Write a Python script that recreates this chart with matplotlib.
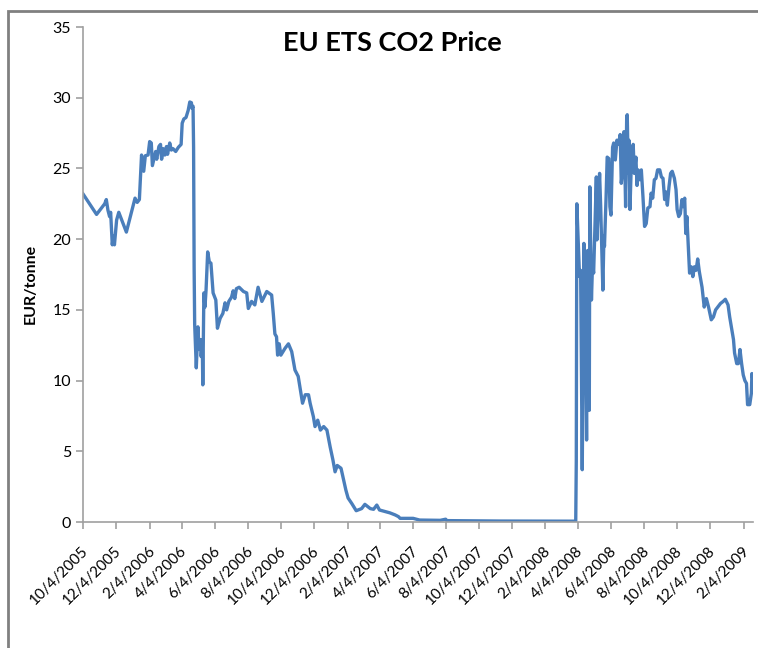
import pandas as pd
from matplotlib import pyplot as plt
from matplotlib.patches import Rectangle
import matplotlib.transforms as mtransforms

# price readings (EUR/tonne)
dates = [
    '2005-10-04', '2005-10-29', '2005-11-13', '2005-11-16', '2005-11-19', '2005-11-22',
    '2005-11-24', '2005-11-27', '2005-11-29', '2005-12-01', '2005-12-05', '2005-12-09',
    '2005-12-23', '2006-01-08', '2006-01-12', '2006-01-16', '2006-01-20', '2006-01-24',
    '2006-01-27', '2006-02-01', '2006-02-04', '2006-02-07', '2006-02-09', '2006-02-12',
    '2006-02-15', '2006-02-17', '2006-02-21', '2006-02-24', '2006-02-26', '2006-03-01',
    '2006-03-04', '2006-03-07', '2006-03-09', '2006-03-13', '2006-03-16', '2006-03-19',
    '2006-03-24', '2006-03-29', '2006-04-03', '2006-04-05', '2006-04-08', '2006-04-12',
    '2006-04-16', '2006-04-19', '2006-04-22', '2006-04-23', '2006-04-25', '2006-04-26',
    '2006-04-27', '2006-04-28', '2006-05-01', '2006-05-04', '2006-05-06', '2006-05-09',
    '2006-05-10', '2006-05-12', '2006-05-13', '2006-05-15', '2006-05-17', '2006-05-19',
    '2006-05-22', '2006-05-25', '2006-05-28', '2006-06-01', '2006-06-06', '2006-06-09',
    '2006-06-14', '2006-06-19', '2006-06-23', '2006-06-26', '2006-06-30', '2006-07-05',
    '2006-07-08', '2006-07-11', '2006-07-14', '2006-07-19', '2006-07-27', '2006-08-02',
    '2006-08-05', '2006-08-11', '2006-08-17', '2006-08-23', '2006-08-30', '2006-09-08',
    '2006-09-17', '2006-09-20', '2006-09-23', '2006-09-26', '2006-09-28', '2006-10-01',
    '2006-10-04', '2006-10-12', '2006-10-18', '2006-10-24', '2006-10-30', '2006-11-05',
    '2006-11-10', '2006-11-13', '2006-11-18', '2006-11-24', '2006-11-27', '2006-12-03',
    '2006-12-06', '2006-12-11', '2006-12-16', '2006-12-22', '2006-12-28', '2007-01-03',
    '2007-01-08', '2007-01-12', '2007-01-16', '2007-01-23', '2007-01-28', '2007-02-01',
    '2007-02-05', '2007-02-12', '2007-02-20', '2007-03-02', '2007-03-08', '2007-03-18',
    '2007-03-24', '2007-03-30', '2007-04-04', '2007-04-23', '2007-05-03', '2007-05-09',
    '2007-05-12', '2007-06-05', '2007-06-12', '2007-06-17', '2007-07-25', '2007-08-04',
    '2007-08-06', '2007-11-13', '2008-03-31', '2008-04-01', '2008-04-02', '2008-04-07',
    '2008-04-09', '2008-04-12', '2008-04-15', '2008-04-17', '2008-04-20', '2008-04-22',
    '2008-04-25', '2008-04-26', '2008-04-29', '2008-05-01', '2008-05-03', '2008-05-08',
    '2008-05-09', '2008-05-14', '2008-05-16', '2008-05-20', '2008-05-22', '2008-05-23',
    '2008-05-26', '2008-05-28', '2008-05-31', '2008-06-02', '2008-06-04', '2008-06-07',
    '2008-06-09', '2008-06-12', '2008-06-15', '2008-06-18', '2008-06-21', '2008-06-23',
    '2008-06-26', '2008-06-28', '2008-06-29', '2008-07-01', '2008-07-03', '2008-07-04',
    '2008-07-06', '2008-07-07', '2008-07-09', '2008-07-11', '2008-07-13', '2008-07-15',
    '2008-07-17', '2008-07-20', '2008-07-22', '2008-07-24', '2008-07-27', '2008-07-30',
    '2008-08-02', '2008-08-05', '2008-08-08', '2008-08-11', '2008-08-15', '2008-08-17',
    '2008-08-20', '2008-08-23', '2008-08-26', '2008-08-29', '2008-09-02', '2008-09-05',
    '2008-09-08', '2008-09-11', '2008-09-13', '2008-09-16', '2008-09-19', '2008-09-22',
    '2008-09-25', '2008-09-29', '2008-10-02', '2008-10-04', '2008-10-07', '2008-10-10',
    '2008-10-13', '2008-10-15', '2008-10-18', '2008-10-20', '2008-10-22', '2008-10-24',
    '2008-10-27', '2008-10-30', '2008-11-02', '2008-11-05', '2008-11-08', '2008-11-11',
    '2008-11-14', '2008-11-19', '2008-11-23', '2008-11-27', '2008-12-01', '2008-12-06',
    '2008-12-10', '2008-12-14', '2008-12-18', '2008-12-23', '2008-12-28', '2009-01-01',
    '2009-01-06', '2009-01-09', '2009-01-12', '2009-01-16', '2009-01-18', '2009-01-22',
    '2009-01-25', '2009-01-28', '2009-01-31', '2009-02-03', '2009-02-06', '2009-02-09',
    '2009-02-11', '2009-02-15', '2009-02-18', '2009-02-19', '2009-02-21',
]
prices = [
    23.2, 21.75, 22.5, 22.8, 22.05, 21.6,
    21.9, 19.6, 20.2, 19.6, 21.35, 21.9,
    20.5, 22.9, 22.6, 22.8, 25.95, 24.8,
    25.9, 25.95, 26.9, 26.8, 25.2, 25.7,
    26.2, 25.65, 26.55, 26.7, 25.65, 26.4,
    25.95, 26.55, 26.0, 26.8, 26.3, 26.4,
    26.2, 26.5, 26.7, 28.2, 28.5, 28.6,
    29.1, 29.7, 29.65, 29.25, 29.4, 26.5,
    18.0, 14.0, 10.9, 13.8, 12.2, 12.9,
    11.7, 12.75, 9.7, 16.2, 15.2, 16.4,
    19.1, 18.4, 18.3, 16.2, 15.7, 13.7,
    14.4, 14.75, 15.5, 15.0, 15.6, 15.9,
    16.35, 15.8, 16.5, 16.6, 16.3, 16.2,
    15.1, 15.6, 15.35, 16.6, 15.6, 16.3,
    16.05, 14.75, 13.3, 13.1, 11.8, 12.6,
    11.8, 12.3, 12.6, 12.05, 10.75, 10.3,
    9.1, 8.4, 9.0, 9.0, 8.4, 7.45,
    6.75, 7.2, 6.5, 6.75, 6.5, 5.3,
    4.4, 3.55, 4.0, 3.8, 2.95, 2.25,
    1.7, 1.3, 0.8, 0.95, 1.25, 0.95,
    0.9, 1.2, 0.85, 0.65, 0.5, 0.38,
    0.26, 0.26, 0.19, 0.14, 0.12, 0.2,
    0.1, 0.07, 0.06, 4.3, 22.5, 17.35,
    17.8, 3.7, 19.7, 17.35, 5.8, 19.2,
    7.9, 23.7, 15.7, 18.3, 17.6, 24.4,
    19.95, 24.65, 22.3, 16.4, 20.2, 19.5,
    23.0, 25.8, 25.7, 22.3, 21.7, 26.5,
    26.8, 25.6, 27.0, 26.7, 27.4, 23.95,
    25.1, 27.6, 26.3, 22.3, 28.65, 28.8,
    24.65, 27.0, 22.1, 24.65, 25.8, 26.7,
    24.65, 25.8, 23.8, 24.9, 24.2, 24.9,
    23.0, 20.9, 21.1, 22.2, 22.3, 23.25,
    22.9, 24.2, 24.3, 24.9, 24.9, 24.4,
    24.3, 22.8, 23.35, 22.4, 23.7, 24.65,
    24.8, 24.3, 23.5, 22.1, 21.6, 21.8,
    22.8, 22.3, 22.9, 20.4, 21.6, 19.95,
    17.6, 18.05, 17.35, 18.05, 17.8, 18.6,
    17.7, 16.6, 15.2, 15.8, 15.2, 14.3,
    14.5, 15.0, 15.2, 15.45, 15.6, 15.75,
    15.35, 14.5, 13.8, 12.9, 11.95, 11.2,
    11.2, 12.2, 11.2, 10.4, 10.0, 9.8,
    8.3, 8.3, 9.1, 10.5, 10.0,
]

tick_dates = pd.date_range('2005-10-04', periods=21, freq=pd.DateOffset(months=2))
tick_labels = [f'{d.month}/{d.day}/{d.year}' for d in tick_dates]

plt.rcParams['font.family'] = ['Lato', 'DejaVu Sans']

fig = plt.figure(figsize=(7.58, 6.48), dpi=100)
ax = fig.add_axes([0.1095, 0.1944, 0.8839, 0.7639])

x = pd.to_datetime(dates)
ax.plot(x, prices, color='#4A7EBB', linewidth=2.4)

ax.set_xlim(x[0], x[-1])
ax.set_ylim(0, 35)
ax.set_yticks(range(0, 36, 5))

for side in ['top', 'right']:
    ax.spines[side].set_visible(False)
for side in ['left', 'bottom']:
    ax.spines[side].set_color('#A0A0A0')
    ax.spines[side].set_linewidth(1.2)
ax.tick_params(axis='both', colors='#A0A0A0', labelcolor='black', length=5, width=1.2,
               direction='out')
ax.tick_params(axis='y', labelsize=11.5)

ax.set_xticks(tick_dates)
ax.set_xticklabels(tick_labels, rotation=45, ha='right', va='center',
                   rotation_mode='anchor', fontsize=11)
shift = mtransforms.ScaledTranslation(3 / 100, -15 / 100, fig.dpi_scale_trans)
for lbl in ax.get_xticklabels():
    lbl.set_transform(lbl.get_transform() + shift)

ax.set_ylabel('EUR/tonne', fontsize=11.5, fontweight='bold')
ax.yaxis.set_label_coords(-0.068, 0.48)
fig.text(0.518, 0.934, 'EU ETS CO2 Price', ha='center', va='center',
         fontsize=19.5, fontweight='bold')

# chart frame (only left and top edges fall inside the picture)
fig.patches.append(Rectangle((7.5 / 758, -0.1), 1.2, 1.1 - 11.5 / 648, transform=fig.transFigure,
                             fill=False, edgecolor='#808080', linewidth=2))

fig.savefig('out.png', dpi=100)
